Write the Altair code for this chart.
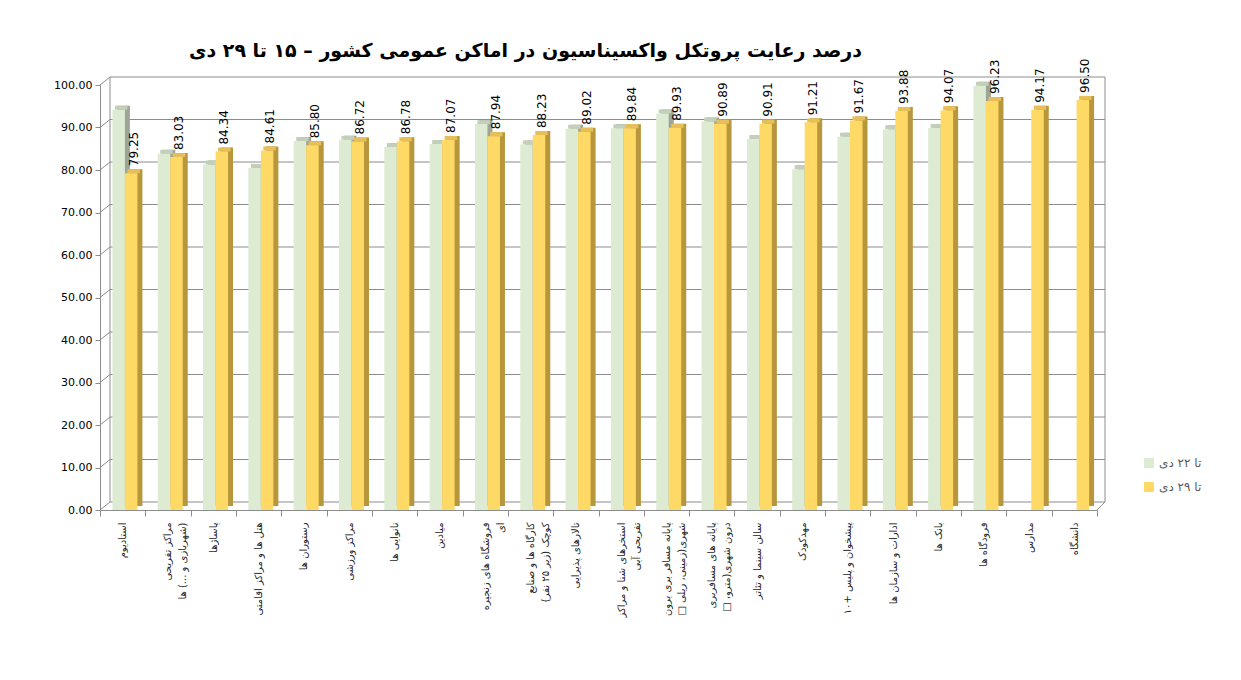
import pandas as pd
import altair as alt

RLM = "\u200f"

# categories (| marks a line break in the axis label)
places = [
    "استادیوم",
    "مراکز تفریحی|(شهربازی و ...) ها",
    "پاساژها",
    "هتل ها و مراکز اقامتی",
    "رستوران ها",
    "مراکز ورزشی",
    "نانوایی ها",
    "میادین",
    "فروشگاه های زنجیره|ای",
    "کارگاه ها و صنایع|کوچک (زیر ۲۵ نفر)",
    "تالارهای پذیرایی",
    "استخرهای شنا و مراکز|تفریحی آبی",
    "پایانه مسافر بری برون|شهری(زمینی، ریلی  □",
    "پایانه های مسافربری|درون شهری(مترو،  □",
    "سالن سینما و تئاتر",
    "مهدکودک",
    "پیشخوان و پلیس +۱۰",
    "ادارات و سازمان ها",
    "بانک ها",
    "مدارس",
    "فرودگاه ها",
    "دانشگاه",
]

# series values
until_22 = [94.2, 83.8, 81.3, 80.5, 86.8, 87.1, 85.4, 86.1, 90.8, 86.0, 89.7,
            89.8, 93.3, 91.4, 87.3, 80.2, 87.8, 89.6, 89.9, None, 99.8, None]
until_29 = [79.25, 83.03, 84.34, 84.61, 85.80, 86.72, 86.78, 87.07, 87.94, 88.23, 89.02,
            89.84, 89.93, 90.89, 90.91, 91.21, 91.67, 93.88, 94.07, 94.17, 96.23, 96.50]

series_names = ["تا ۲۲ دی", "تا ۲۹ دی"]
y_ticks = [0, 10, 20, 30, 40, 50, 60, 70, 80, 90, 100]


def rtl(label):
    # wrap every line in RLM marks so brackets and boxes stay on the right side
    return "|".join(RLM + line + RLM for line in label.split("|"))


rows = []
for p, a, b in zip(places, until_22, until_29):
    rows.append({"place": rtl(p), "series": series_names[0], "value": a})
    rows.append({"place": rtl(p), "series": series_names[1], "value": b})
data = pd.DataFrame(rows)
grid = pd.DataFrame({"v": y_ticks})

FONT = "DejaVu Sans"
W, H = 997, 425
DEPTH_X, DEPTH_Y = 8, -8
GRAY = "#8c8c8c"

x_enc = alt.X("place:N", sort=None, scale=alt.Scale(paddingInner=0, paddingOuter=0),
              axis=alt.Axis(title=None, labelAngle=270, labelAlign="right", labelBaseline="middle",
                            labelExpr="split(datum.label, '|')", labelFont=FONT, labelFontSize=10,
                            labelColor="#262626", labelLineHeight=15, labelLimit=300,
                            labelPadding=6, tickBand="extent", tickSize=6, tickColor=GRAY,
                            domainColor=GRAY, grid=False))
y_scale = alt.Scale(domain=[0, 100], nice=False)
y_axis = alt.Axis(title=None, values=y_ticks, format=".2f", labelFont=FONT,
                  labelFontSize=11, labelColor="#000000", tickSize=5,
                  tickColor=GRAY, domainColor=GRAY, labelPadding=3, grid=False)
y_enc = alt.Y("value:Q", scale=y_scale, axis=y_axis)

base = alt.Chart(data)

# back wall of the 3D box
back_grid = alt.Chart(grid).mark_rule(color=GRAY, strokeWidth=1, yOffset=DEPTH_Y).encode(
    y=alt.Y("v:Q", scale=y_scale, axis=y_axis), x=alt.value(10), x2=alt.value(W + DEPTH_X))
side_ticks = alt.Chart(grid).mark_rule(color=GRAY, strokeWidth=1, y2Offset=DEPTH_Y).encode(
    y=alt.Y("v:Q", scale=y_scale, axis=y_axis), y2="v:Q", x=alt.value(0), x2=alt.value(10))
box = pd.DataFrame({"lo": [0], "hi": [100]})
walls = alt.Chart(box).mark_rule(color=GRAY, yOffset=DEPTH_Y, y2Offset=DEPTH_Y).encode(
    y=alt.Y("lo:Q", scale=y_scale, axis=y_axis), y2="hi:Q", x=alt.value(10))
walls_r = alt.Chart(box).mark_rule(color=GRAY, yOffset=DEPTH_Y, y2Offset=DEPTH_Y).encode(
    y=alt.Y("lo:Q", scale=y_scale, axis=y_axis), y2="hi:Q", x=alt.value(W + DEPTH_X))
floor_r = alt.Chart(box).mark_rule(color=GRAY, y2Offset=DEPTH_Y).encode(
    y=alt.Y("lo:Q", scale=y_scale, axis=y_axis), y2="lo:Q", x=alt.value(W), x2=alt.value(W + DEPTH_X))


def bars(name, off, side, top):
    d = base.transform_filter(alt.datum.series == name)
    shadow = d.mark_bar(width=12.5, xOffset=off + 5, yOffset=-4, y2Offset=-4, color=side).encode(
        x=x_enc, y=y_enc)
    cap = d.mark_bar(width=12.5, xOffset=off + 2.5, yOffset=-4, color=top).encode(
        x=x_enc, y=y_enc, y2="value:Q")
    front = d.mark_bar(width=12.5, xOffset=off).encode(
        x=x_enc, y=y_enc,
        color=alt.Color("series:N", scale=alt.Scale(domain=series_names, range=["#dcebd1", "#ffd966"]),
                        legend=alt.Legend(title=None, orient="none", legendX=1043, legendY=372,
                                          symbolType="square", symbolSize=100, symbolStrokeWidth=0,
                                          labelFont=FONT, labelFontSize=12, labelColor="#595959",
                                          rowPadding=12)))
    return shadow, cap, front


g_shadow, g_cap, g_front = bars(series_names[0], -4, "#9ea597", "#c4cfba")
y_shadow, y_cap, y_front = bars(series_names[1], 8.5, "#b8963c", "#e6bf58")

labels = base.transform_filter(alt.datum.series == series_names[1]).mark_text(
    angle=270, align="left", baseline="middle", xOffset=11, yOffset=-7,
    font=FONT, fontSize=12, color="#000000").encode(
    x=x_enc, y=y_enc, text=alt.Text("value:Q", format=".2f"))

chart = alt.layer(
    back_grid, side_ticks, walls, walls_r, floor_r,
    g_shadow, g_cap, g_front, y_shadow, y_cap, y_front, labels
).properties(
    width=W, height=H,
    autosize=alt.AutoSizeParams(type="none"),
    padding={"left": 92, "top": 77, "right": 120, "bottom": 150},
    title=alt.Title("درصد رعایت پروتکل واکسیناسیون در اماکن عمومی کشور – ۱۵ تا ۲۹ دی",
                    font=FONT, fontSize=19, fontWeight="bold", color="#000000",
                    anchor="middle", dx=-73, offset=-2),
).configure_view(stroke=None)

chart.save("out.html", embed_options={"renderer": "svg", "actions": False})
